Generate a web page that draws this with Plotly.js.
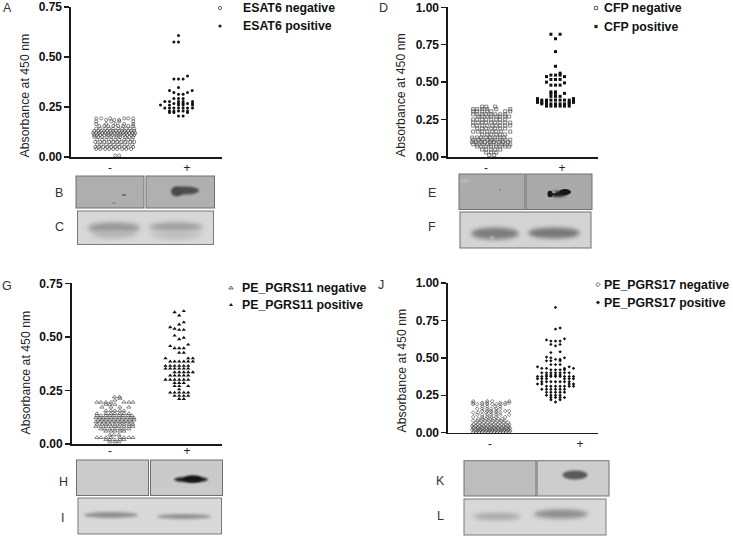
<!DOCTYPE html>
<html><head><meta charset="utf-8">
<script src="https://cdn.plot.ly/plotly-3.0.1.min.js"></script>
<style>html,body{margin:0;padding:0;background:#fff}#c{width:733px;height:538px}</style>
</head><body><div id="c"></div>
<script>
// Rows: [absorbance, [horizontal scatter offsets of the points in that row]]
const esat6Neg = [
 [.007,[1,5]],[.04,[-18,-14,-9,-5,-1,3,8,12,17]],[.05,[-19,-15,-11,-7,-3,1,5,10,14,19]],[.062,[-17,-13,-8,-4,0,4,8,13,18]],
 [.075,[-19,-14,-10,-5,-1,3,7,11,16,20]],[.087,[-17,-12,-8,-3,1,5,10,14,18]],[.1,[-20,-16,-12,-7,-3,2,6,11,15,19]],
 [.11,[-20,-17,-14,-10,-6,-2,2,6,10,13,17,20]],[.12,[-21,-18,-15,-12,-9,-6,-3,0,3,6,9,12,15,18,21]],
 [.13,[-20,-16,-13,-10,-7,-4,-1,2,5,8,11,14,17,20]],[.142,[-18,-14,-9,-5,-1,4,8,12,16,20]],[.155,[-15,-10,-6,-1,4,9,14,19]],
 [.165,[-18,-8,1,10,19]],[.178,[-18,-3,5,19]],[.185,[-8,0,5]],[.193,[-18,-13,-4,10,14,19]]
];
const esat6Pos = [
 [.608,[0]],[.575,[-4.6,0]],[.405,[9]],[.39,[-4.6,0,4.6]],[.348,[0]],
 [.332,[-9,13.7]],[.322,[-4.6,9]],[.314,[0,4.6]],[.292,[0,4.6,-4.6]],[.278,[-13.7,-9,0,4.6,14]],[.268,[-4.6,0,4.6,9,14]],
 [.26,[-18,-9,0,4.6,14]],[.245,[-13.7,-9,-4.6,0,4.6,9,14]],[.23,[-9,-4.6,0,4.6,9]],[.222,[-9,-4.6,9]],[.205,[0,4.6]]
];
const cfpNeg = [
 [.013,[-2,3]],[.03,[-5,0,5]],[.05,[-9,-5,0,4,9]],[.07,[-14,-10,-5,0,5,9,14,18]],[.085,[-18,-14,-9,-4,0,5,10,14,19]],
 [.1,[-19,-15,-10,-6,-1,3,8,12,17]],[.115,[-18,-13,-9,-4,0,4,9,14,19]],[.13,[-19,-14,-10,-5,-1,4,9,13]],[.15,[-9,-4,0,5,9,14]],
 [.17,[-18,-13,-9,-4,1,5,10,19]],[.19,[-14,-9,-5,0,4,9,14]],[.21,[-18,-14,-9,-4,1,5,9,14,19]],[.23,[-18,-13,-9,-5,0,4,9,14,19]],
 [.25,[-18,-14,-9,-5,0,5,9,14]],[.27,[-13,-9,-4,0,5,9,14,18]],[.285,[-18,-14,-9,-5,0,4,9,14]],[.305,[-18,-14,-9,-4,0,14,19]],
 [.32,[-18,-14,-9,-4,5,19]],[.336,[-9,-5,4]]
];
const cfpPos = [
 [.82,[-4.6,4.6]],[.79,[0]],[.704,[0]],[.606,[0]],[.56,[4.6]],[.547,[-4.6,0,4.6]],[.537,[-9,9]],[.518,[-4.6,0,4.6]],[.5,[-9]],
 [.495,[9]],[.48,[-4.6,0,4.6]],[.435,[-4.6,0]],[.425,[9,0,-4.6]],[.405,[-4.6,0,4.6]],[.39,[-18,18]],[.38,[-18,-13.7,-9,-4.6,0,4.6,9,13.7,18]],
 [.365,[-18,-13.7,-9,13.7,18]],[.355,[-13.7,-9,-4.6,0,4.6,9,13.7]],[.34,[-9,-4.6,0,4.6,9,13.7]]
];
const pgrs11Neg = [
 [.01,[-5,0,4]],[.02,[-9,-5,0,5,9]],[.03,[-18,-14,-9,-4,5,9,14,18]],[.042,[-5,-1,4]],[.06,[-9,-4,0,5,9]],[.07,[-14,-10,-5,0,5,9,14]],
 [.082,[-19,-14,-9,-4,0,4,9,14,18]],[.092,[-18,-13,-9,-5,0,5,9,14,18]],[.103,[-19,-15,-11,-7,-3,1,5,9,13,17]],[.112,[-17,-13,-9,-5,-1,3,7,11,15,19]],
 [.122,[-19,-15,-12,-8,-4,0,4,8,12,16,19]],[.132,[-18,-14,-9,-5,-1,4,8,13,17]],[.142,[-18,-9,-4,0,5,9,14]],[.155,[-9,-4,0,5,9]],
 [.172,[-13,5,-4,14]],[.185,[-9,-5,0]],[.195,[-18,-14,-9,-4,9,14,18]],[.205,[0]],[.213,[5]],[.22,[4.6,-0.5]]
];
const pgrs11Pos = [
 [.62,[4.6]],[.615,[-4.6]],[.6,[0]],[.568,[4.6]],[.558,[0]],[.545,[-9]],[.538,[-4.6]],[.533,[0,4.6]],[.506,[-4.6]],[.496,[4.6]],[.489,[0]],
 [.464,[9]],[.457,[-9]],[.447,[-4.6,0,4.6]],[.426,[0,4.6]],[.4,[-13.7,9,13.7]],[.385,[-9,-4.6,0,4.6,9,13.7]],[.365,[-13.7,-9,-4.6,0,4.6,9]],
 [.352,[-13.7,-9,-4.6,0,4.6,9]],[.335,[-4.6,0,4.6,13.7,9]],[.32,[-9,-4.6,0,4.6,9]],[.3,[-13.7,-9,-4.6,0,4.6,9]],[.285,[-4.6,0,4.6]],
 [.27,[-4.6,0,9]],[.255,[0]],[.24,[-9,-4.6,0,4.6,9]],[.225,[-4.6,0,4.6,9]],[.21,[0,4.6]]
];
const pgrs17Neg = [
 [.004,[-18,-15,-12,-9,-6,-3,0,3,6,9,12,15,18]],[.012,[-17,-14,-11,-8,-5,-2,1,4,7,10,13,16,19]],[.02,[-19,-15,-11,-7,-3,1,5,9,13,17]],[.028,[-18,-14,-11,-8,-5,-2,1,4,7,10,13,16,19]],
 [.036,[-18,-14,-10,-6,-2,2,6,10,14,18]],[.045,[-19,-15,-11,-7,-3,1,5,9,13,17]],[.055,[-18,-14,-10,-6,-2,2,6,10,14,18]],[.068,[-15,-11,-7,-3,1,5,9,13,17]],[.08,[-18,-14,-10,-6,-2,2,6,10,14]],
 [.092,[-13,-9,-5,-1,3,7,11]],[.105,[-18,-9,-4,0,5,14]],[.12,[-14,-9,-4,0,5,9,18]],[.135,[-18,-13,-5,0,5,9]],[.145,[-9,-4,0,5,14,18]],
 [.16,[-14,-9,-4,0,5,9]],[.175,[-9,-4,4,9]],[.19,[-18,-14,-9,-4,1,5,9,14]],[.2,[-18,-9,-4,9,14,18]],[.21,[-18,-4,1,18]]
];
const pgrs17Pos = [
 [.837,[0]],[.692,[0]],[.699,[4.6]],[.627,[9]],[.62,[-9]],[.612,[-4.6,0,4.6]],[.59,[-4.6,4.6]],[.58,[0]],[.535,[-4.6]],[.54,[4.6]],
 [.505,[-9]],[.5,[-4.6,9]],[.49,[0,4.6]],[.48,[-9,-4.6,4.6]],[.455,[-4.6,0,4.6]],[.44,[-18,13.7]],[.43,[-13.7,-9,9,18]],[.42,[-4.6,0,4.6,9]],
 [.4,[-13.7,-9,-4.6,0,4.6,9,13.7]],[.385,[-9,-4.6,0,4.6]],[.375,[-18,-13.7,-9,-4.6,0,4.6,9,13.7,18]],[.36,[-18,-13.7,-9,9,13.7,18]],
 [.34,[-13.7,-9,-4.6,0,4.6,9,13.7]],[.325,[-18,-13.7,13.7,18]],[.31,[-9,-4.6,0,4.6,9,13.7,18]],[.29,[-13.7,-9,-4.6,0,4.6,9]],
 [.27,[-9,-4.6,0,4.6,9,]],[.25,[-9,-4.6,0,4.6]],[.235,[-4.6,0,4.6,9]],[.22,[-4.6,4.6]],[.205,[0]]
];
const groupLabels = ['-','+'];
const panelNames = ['ESAT6','CFP','PE_PGRS11','PE_PGRS17'];
const yTicksA = [0,.25,.5,.75], yTicksB = [0,.25,.5,.75,1];
const font = 'Arial, "Liberation Sans", sans-serif';

const W=733,H=538;
const panels=[
 {neg:esat6Neg,pos:esat6Pos,name:panelNames[0],ymax:.75,tv:yTicksA,L:71,R:222,T:7,B:157,t:[39,116],so:-1,sn:'circle-open',sp:'circle',sz:3.1,szp:3},
 {neg:cfpNeg,pos:cfpPos,name:panelNames[1],ymax:1,tv:yTicksB,L:448,R:598,T:7.3,B:157,t:[38,114],so:-1,sn:'square-open',sp:'square',sz:3.1,szp:3},
 {neg:pgrs11Neg,pos:pgrs11Pos,name:panelNames[2],ymax:.75,tv:yTicksA,L:71.7,R:222,T:283.3,B:444,t:[38.3,115.3],so:-5,sn:'triangle-up-open',sp:'triangle-up',sz:3.7,szp:3.8},
 {neg:pgrs17Neg,pos:pgrs17Pos,name:panelNames[3],ymax:1,tv:yTicksB,L:448,R:598,T:283,B:432.7,t:[42,132],so:-1,sn:'diamond-open',sp:'diamond',sz:2.8,szp:2.6}
];
const NEG_C=43.2, POS_C=107.5;
function expand(rows,c){const x=[],y=[];rows.forEach(r=>r[1].forEach(o=>{x.push(c+o);y.push(r[0]);}));return{x,y};}

const traces=[],layout={width:W,height:H,margin:{l:0,r:0,t:0,b:0},paper_bgcolor:'#fff',plot_bgcolor:'rgba(0,0,0,0)',showlegend:false,
  font:{family:font,color:'#1a1a1a'},annotations:[],images:[]};
const ann=(text,x,y,o)=>layout.annotations.push(Object.assign({text,x:x/W,y:1-y/H,xref:'paper',yref:'paper',showarrow:false,xanchor:'left',yanchor:'middle',align:'left',font:{family:font,size:12,color:'#1a1a1a'}},o||{}));

panels.forEach((p,i)=>{
  const n=i+1, xa=n===1?'x':'x'+n, ya=n===1?'y':'y'+n;
  const a=expand(p.neg,NEG_C), b=expand(p.pos,POS_C);
  traces.push({type:'scatter',mode:'markers',name:p.name+' negative',xaxis:xa,yaxis:ya,x:a.x,y:a.y,cliponaxis:false,
    marker:{symbol:p.sn,size:p.sz,color:'#444',line:{width:.65,color:'#444'}}});
  traces.push({type:'scatter',mode:'markers',name:p.name+' positive',xaxis:xa,yaxis:ya,x:b.x,y:b.y,cliponaxis:false,
    marker:{symbol:p.sp,size:p.szp,color:'#111',line:{width:0}}});
  layout[n===1?'xaxis':'xaxis'+n]={domain:[p.L/W,p.R/W],range:[0,p.R-p.L],anchor:ya,showgrid:false,zeroline:false,showline:true,linecolor:'#1a1a1a',linewidth:1.6,
    tickmode:'array',tickvals:p.t,ticktext:groupLabels,ticks:'',ticklabelstandoff:p.so,tickfont:{family:font,size:12,color:'#222'},fixedrange:true};
  layout[n===1?'yaxis':'yaxis'+n]={domain:[1-p.B/H,1-p.T/H],range:[0,p.ymax],anchor:xa,showgrid:false,zeroline:false,showline:true,linecolor:'#1a1a1a',linewidth:1.6,
    tickmode:'array',tickvals:p.tv,tickformat:'.2f',ticks:'outside',ticklen:5,tickwidth:1.5,tickcolor:'#1a1a1a',tickfont:{family:font,size:12,color:'#111',weight:'bold'},fixedrange:true};
});

// full-page helper axis used only for the hand-placed legend keys
layout.xaxis5={domain:[0,1],range:[0,W],visible:false,fixedrange:true,anchor:'y5'};
layout.yaxis5={domain:[0,1],range:[H,0],visible:false,fixedrange:true,anchor:'x5'};
const keys=[
 [220,8,'circle-open',241,'ESAT6 negative'],[220,26,'circle',241,'ESAT6 positive'],
 [596,8,'square-open',602,'CFP negative'],[596,26.5,'square',602,'CFP positive'],
 [231,288,'triangle-up-open',240,'PE_PGRS11 negative'],[231,305,'triangle-up',240,'PE_PGRS11 positive'],
 [598,284.5,'diamond-open',602,'PE_PGRS17 negative'],[598,302.5,'diamond',602,'PE_PGRS17 positive']
];
keys.forEach(k=>{
  traces.push({type:'scatter',mode:'markers',xaxis:'x5',yaxis:'y5',x:[k[0]],y:[k[1]],hoverinfo:'skip',cliponaxis:false,
    marker:{symbol:k[2],size:k[2].startsWith('triangle')?3.8:3.2,color:'#222',line:{width:k[2].includes('open')?.7:0,color:'#222'}}});
  ann(k[4],k[3],k[1],{font:{family:font,size:12.3,color:'#111',weight:'bold'}});
});

// y titles
[[25,95.5],[401,95],[25,372.5],[401,370.5]].forEach(c=>ann('Absorbance at 450 nm',c[0],c[1],{textangle:-90,xanchor:'center',yanchor:'middle',font:{family:font,size:12.3,color:'#222'}}));
// panel letters
[['A',7,8],['B',59,193],['C',59,227],['D',383,8],['E',432,193],['F',432,227],['G',7,286],['H',63,482],['I',62,518],['J',381,285],['K',441,481],['L',440,516]]
 .forEach(l=>ann(l[0],l[1],l[2],{xanchor:'center',font:{family:font,size:12.5,color:'#333'}}));

// western blot photographs, painted as one backdrop picture
const blots=[
 {r:[76,176,68,32],bg:'#aeaeae',b:'#6e6e6e',s:[[124,195,2.2,1,'#666',.5],[114,203,2,1,'#8e8e8e',.6]]},
 {r:[146,176,68.5,32],bg:'#b0b0b0',b:'#6e6e6e',s:[[186,190.5,13,4,'#4d4d4d',1.2],[177,191.5,6,5,'#4a4a4a',1]]},
 {r:[77.5,211,136,33.5],bg:'#d8d8d8',b:'#7a7a7a',s:[[114,228,26,5.5,'#949494',2.6],[114,234,22,4,'#b4b4b4',2.5],[176,227,27,4.5,'#9c9c9c',2.4],[176,235,25,4,'#bcbcbc',2.5]]},
 {r:[459,174,66,35.5],bg:'#ababab',b:'#707070',s:[[465,181,6,1.5,'#bdbdbd',1],[500,190,.8,.8,'#666',.3]]},
 {r:[526,174,66,35.5],bg:'#aaaaaa',b:'#707070',s:[[558,194,9,3,'#1f1f1f',.8],[565,192,6,3,'#161616',.7],[550,194,2.5,3.2,'#161616',.5],[554,192,2,1.2,'#9a9a9a',.5]]},
 {r:[460,212,131,36],bg:'#d4d4d4',b:'#6e6e6e',s:[[495,233.5,24,6,'#7c7c7c',2.2],[554,233,26,5.5,'#777',2.2],[492,238,2,2,'#bbb',1]]},
 {r:[76.5,460,72,35.5],bg:'#cbcbcb',b:'#707070',s:[]},
 {r:[150.5,460,72,35.5],bg:'#cacaca',b:'#707070',s:[[191,479.5,17,2.8,'#1c1c1c',.8],[193,479,9,3.6,'#151515',.8]]},
 {r:[78,498,143.5,36],bg:'#d9d9d9',b:'#7a7a7a',s:[[111,515,27,3,'#8f8f8f',1.6],[184,516.5,27,2.5,'#8f8f8f',1.6]]},
 {r:[464,460.7,72,35.3],bg:'#bdbdbd',b:'#707070',s:[]},
 {r:[537,460.7,72,35.3],bg:'#cdcdcd',b:'#707070',s:[[575,475,12.5,4.6,'#5a5a5a',1]]},
 {r:[464,499,142,36],bg:'#d8d8d8',b:'#7a7a7a',s:[[497,516.5,24,3.5,'#a8a8a8',2],[561,514,27,4.6,'#8e8e8e',2]]}
];
const cv=document.createElement('canvas');cv.width=W;cv.height=H;const g=cv.getContext('2d');
blots.forEach(o=>{
  const r=o.r;g.save();g.beginPath();g.rect(r[0],r[1],r[2],r[3]);g.clip();
  g.fillStyle=o.bg;g.fillRect(r[0],r[1],r[2],r[3]);
  o.s.forEach(s=>{g.filter='blur('+s[5]+'px)';g.fillStyle=s[4];g.beginPath();g.ellipse(s[0],s[1],s[2],s[3],0,0,Math.PI*2);g.fill();});
  g.restore();g.filter='none';g.strokeStyle=o.b;g.lineWidth=1;g.strokeRect(r[0],r[1],r[2],r[3]);
});
layout.images.push({source:cv.toDataURL(),xref:'paper',yref:'paper',x:0,y:1,sizex:1,sizey:1,sizing:'stretch',xanchor:'left',yanchor:'top',layer:'below'});

Plotly.newPlot('c',traces,layout,{displayModeBar:false,staticPlot:true});
</script></body></html>
